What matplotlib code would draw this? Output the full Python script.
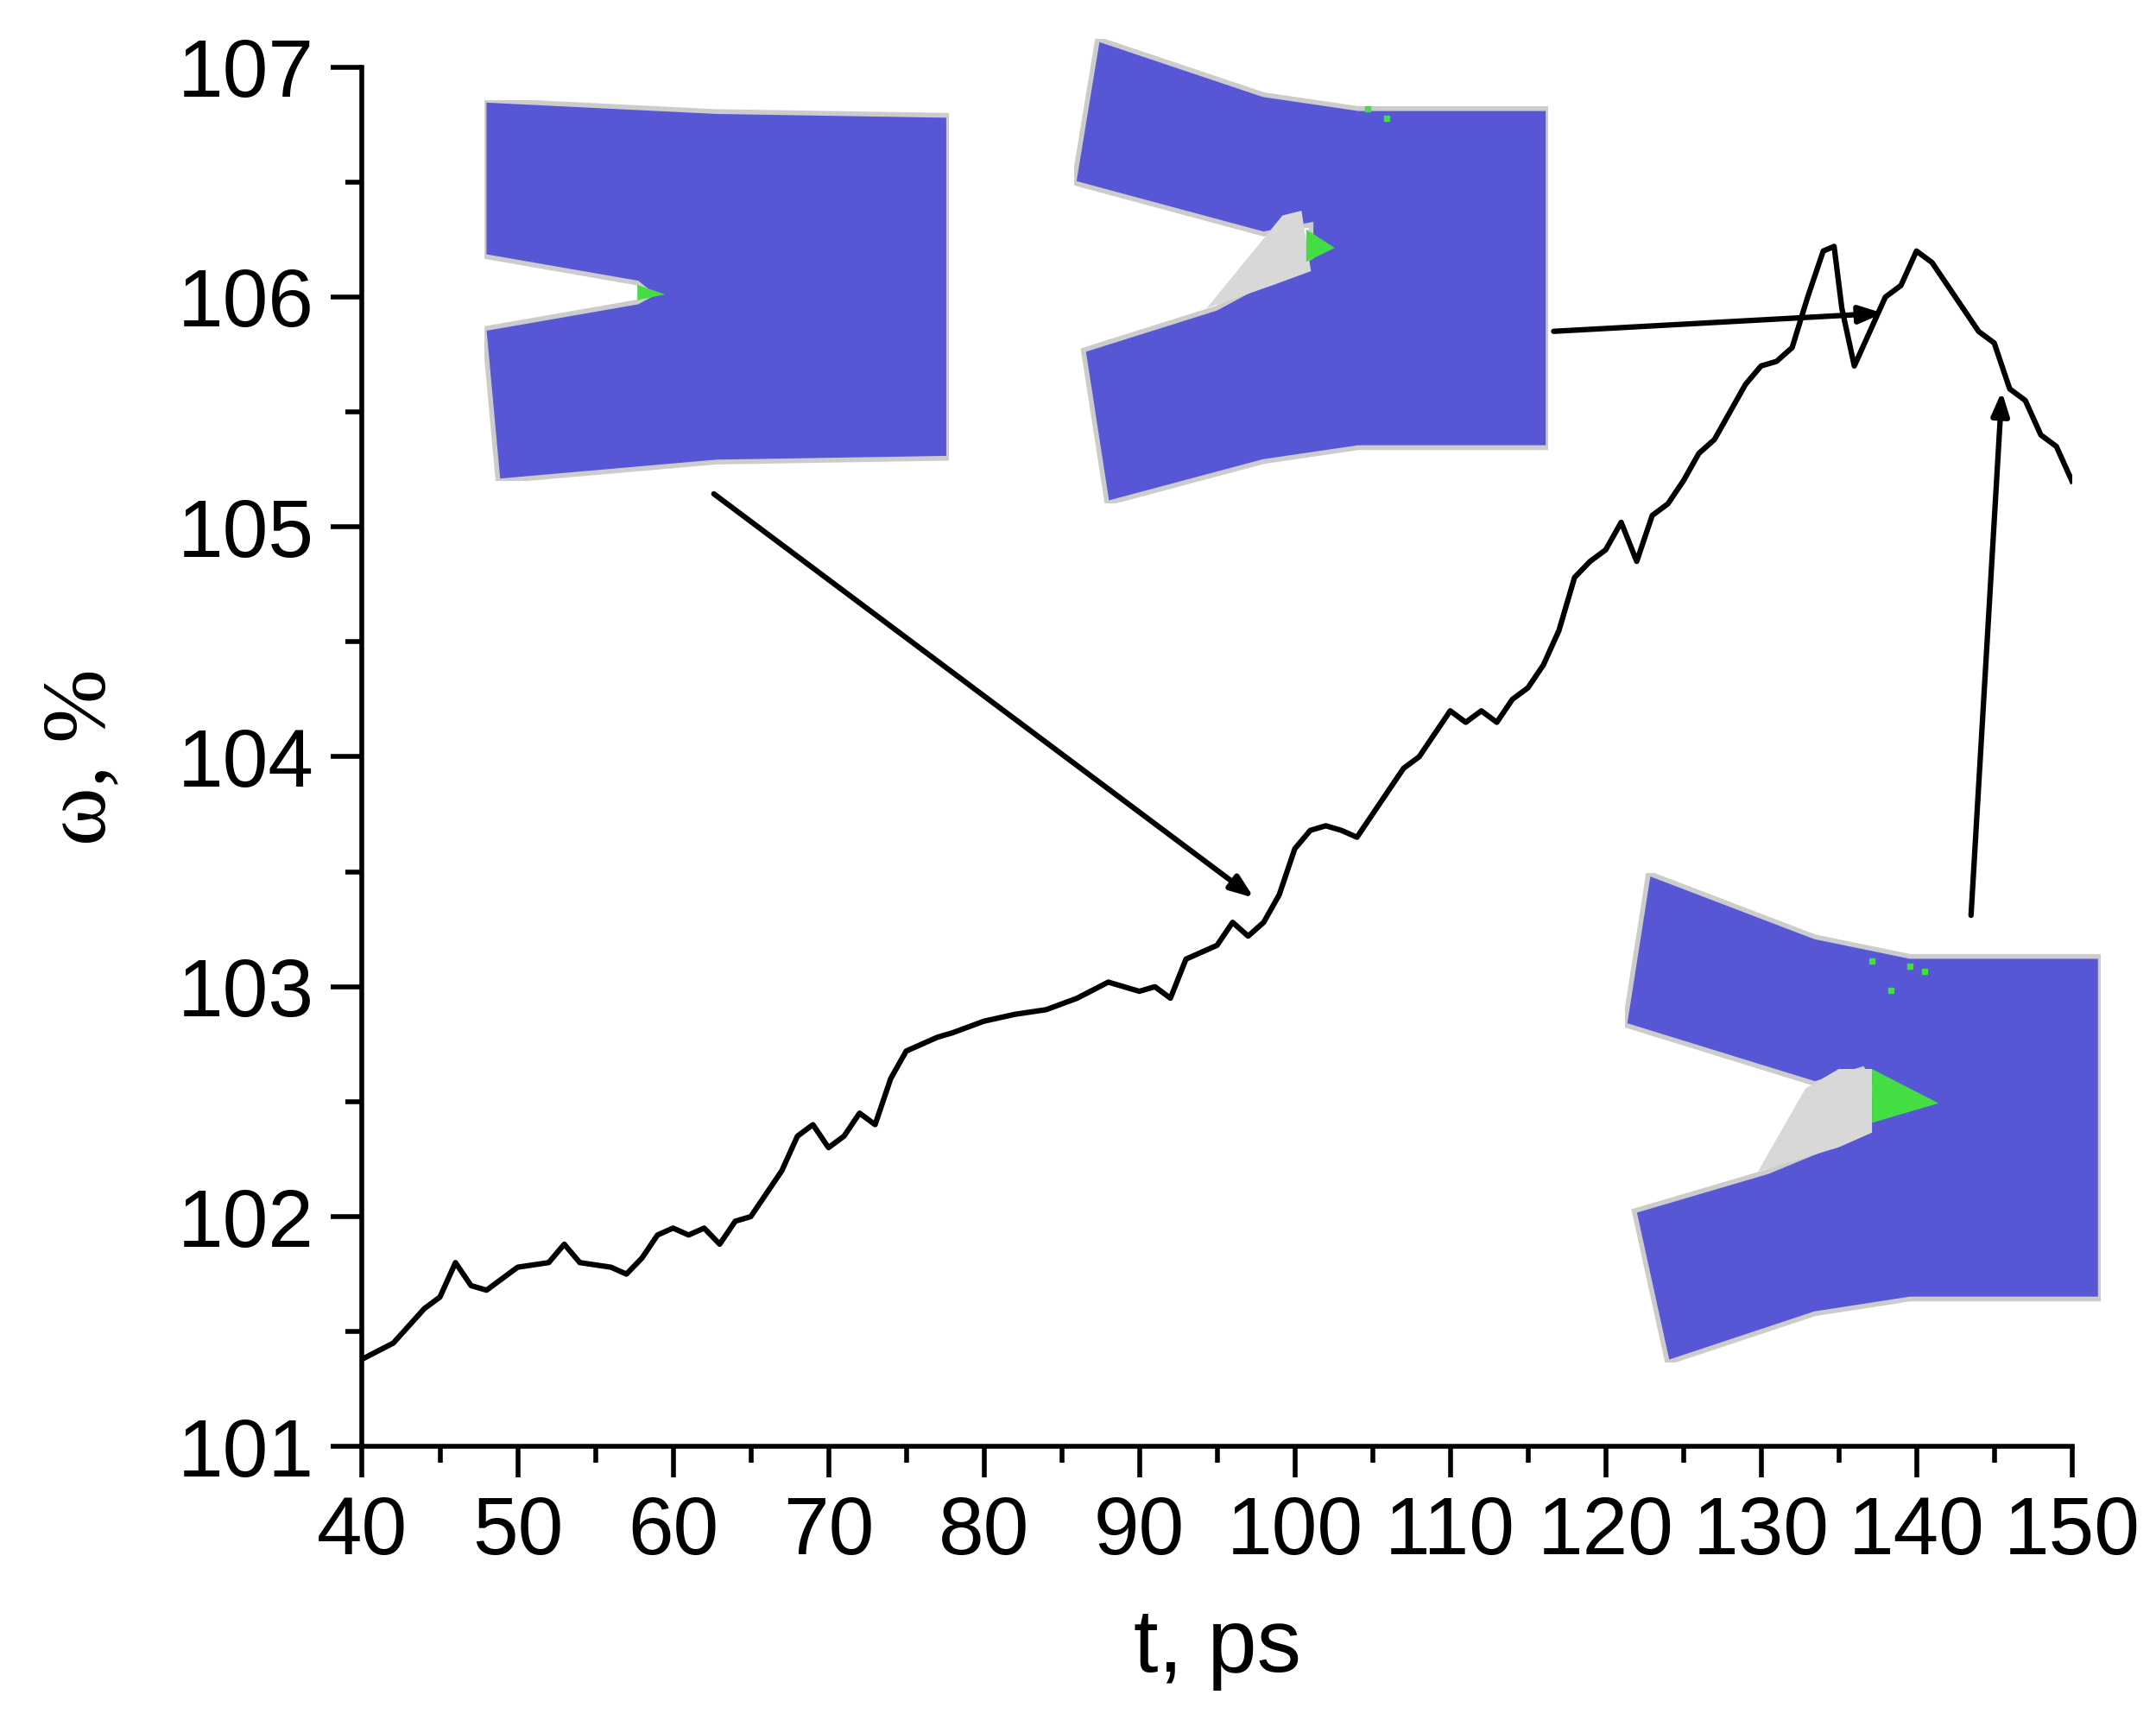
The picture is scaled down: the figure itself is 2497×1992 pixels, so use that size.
import matplotlib
matplotlib.use("Agg")
import matplotlib.pyplot as plt
from matplotlib.patches import Polygon

plt.rcParams['font.family'] = ['Liberation Sans', 'DejaVu Sans']

# --- data ---
t = [40, 42, 44, 45, 46, 47, 48, 50, 52, 53, 54, 56, 57, 58, 59, 60, 61, 62, 63, 64,
     65, 66, 67, 68, 69, 70, 71, 72, 73, 74, 75, 76, 77, 78, 80, 82, 84, 86, 88, 89,
     90, 91, 92, 93, 94, 95, 96, 97, 98, 99, 100, 101, 102, 103, 104, 105, 106, 107, 108, 109,
     110, 111, 112, 113, 114, 115, 116, 117, 118, 119, 120, 121, 122, 123, 124, 125, 126, 127, 128, 129,
     130, 131, 132, 133, 134, 134.7, 135.2, 136, 137, 138, 139, 140, 141, 142, 143, 144, 145, 146, 147, 148,
     149, 150]
w = [101.38, 101.45, 101.6, 101.65, 101.8, 101.7, 101.68, 101.78, 101.8, 101.88, 101.8, 101.78, 101.75, 101.82, 101.92, 101.95, 101.92, 101.95, 101.88, 101.98,
     102.0, 102.1, 102.2, 102.35, 102.4, 102.3, 102.35, 102.45, 102.4, 102.6, 102.72, 102.75, 102.78, 102.8, 102.85, 102.88, 102.9, 102.95, 103.02, 103.0,
     102.98, 103.0, 102.95, 103.12, 103.15, 103.18, 103.28, 103.22, 103.28, 103.4, 103.6, 103.68, 103.7, 103.68, 103.65, 103.75, 103.85, 103.95, 104.0, 104.1,
     104.2, 104.15, 104.2, 104.15, 104.25, 104.3, 104.4, 104.55, 104.78, 104.85, 104.9, 105.02, 104.85, 105.05, 105.1, 105.2, 105.32, 105.38, 105.5, 105.62,
     105.7, 105.72, 105.78, 106.0, 106.2, 106.22, 105.95, 105.7, 105.85, 106.0, 106.05, 106.2, 106.15, 106.05, 105.95, 105.85, 105.8, 105.6, 105.55, 105.4,
     105.35, 105.2]
xticks = list(range(40, 151, 10))
yticks = list(range(101, 108))

BLUE = "#5757d6"
GREEN = "#44dd44"
GREY = "#d8d8d8"


def specimen(rect, outline, crack, tip, spots=()):
    ax = fig.add_axes(rect)
    ax.set_xlim(0, 1)
    ax.set_ylim(0, 1)
    ax.axis("off")
    ax.add_patch(Polygon(outline, closed=True, fc=BLUE, ec="#cccccc", lw=4))
    if crack:
        ax.add_patch(Polygon(crack, closed=True, fc=GREY, ec="none"))
    ax.add_patch(Polygon(tip, closed=True, fc=GREEN, ec="none"))
    for sx, sy in spots:
        ax.plot(sx, sy, "s", color=GREEN, ms=4)


fig = plt.figure(figsize=(24.97, 19.92), dpi=100)
ax = fig.add_axes([0.168, 0.159, 0.793, 0.802])
ax.plot(t, w, color="black", lw=4.5)
ax.set_xlim(40, 150)
ax.set_ylim(101, 107)
ax.set_xticks(xticks)
ax.set_yticks(yticks)
ax.set_xticks(range(45, 150, 10), minor=True)
ax.set_yticks([101.5 + i for i in range(6)], minor=True)
for s in ("top", "right"):
    ax.spines[s].set_visible(False)
for s in ("left", "bottom"):
    ax.spines[s].set_linewidth(4)
ax.tick_params(which="major", direction="out", length=26, width=4, labelsize=68, pad=14)
ax.tick_params(which="minor", direction="out", length=14, width=4)
ax.set_xlabel("t, ps", fontsize=74, labelpad=30)
ax.set_ylabel("ω, %", fontsize=74, labelpad=45, family=["Liberation Serif", "DejaVu Serif"])

arw = dict(arrowstyle="-|>,head_length=1.6,head_width=0.6", color="black", lw=4.5)
ax.annotate("", xy=(97.5, 103.38), xytext=(62.5, 105.15), arrowprops=arw)
ax.annotate("", xy=(138, 105.93), xytext=(116.5, 105.85), arrowprops=arw)
ax.annotate("", xy=(145.5, 105.6), xytext=(143.5, 103.3), arrowprops=arw)

# --- specimen snapshots ---
specimen([348 / 1550, 1 - 346 / 1237, 334 / 1550, 274 / 1237],
         [(0.0, 1.0), (0.5, 0.97), (1.0, 0.96), (1.0, 0.06), (0.5, 0.05), (0.03, 0.0),
          (0.0, 0.4), (0.33, 0.47), (0.36, 0.49), (0.33, 0.52), (0.0, 0.59)],
         None,
         [(0.33, 0.475), (0.39, 0.49), (0.33, 0.515)])
specimen([772 / 1550, 1 - 362 / 1237, 341 / 1550, 334 / 1237],
         [(0.05, 1.0), (0.4, 0.88), (0.6, 0.85), (1.0, 0.85), (1.0, 0.12), (0.6, 0.12),
          (0.4, 0.09), (0.07, 0.0), (0.02, 0.33), (0.3, 0.42), (0.5, 0.53), (0.5, 0.6),
          (0.4, 0.58), (0.0, 0.69)],
         [(0.28, 0.42), (0.42, 0.47), (0.5, 0.5), (0.48, 0.63), (0.44, 0.62), (0.4, 0.57)],
         [(0.49, 0.52), (0.55, 0.55), (0.49, 0.59)],
         spots=[(0.62, 0.85), (0.66, 0.83)])
specimen([1168 / 1550, 1 - 980 / 1237, 342 / 1550, 352 / 1237],
         [(0.05, 1.0), (0.4, 0.87), (0.6, 0.83), (1.0, 0.83), (1.0, 0.13), (0.6, 0.13),
          (0.4, 0.1), (0.09, 0.0), (0.02, 0.31), (0.3, 0.39), (0.5, 0.47), (0.52, 0.56),
          (0.5, 0.6), (0.4, 0.57), (0.0, 0.69)],
         [(0.28, 0.39), (0.45, 0.44), (0.52, 0.47), (0.52, 0.6), (0.45, 0.6), (0.38, 0.56)],
         [(0.52, 0.49), (0.66, 0.53), (0.52, 0.6)],
         spots=[(0.52, 0.82), (0.6, 0.81), (0.63, 0.8), (0.56, 0.76)])

fig.savefig("out.png", dpi=100)
